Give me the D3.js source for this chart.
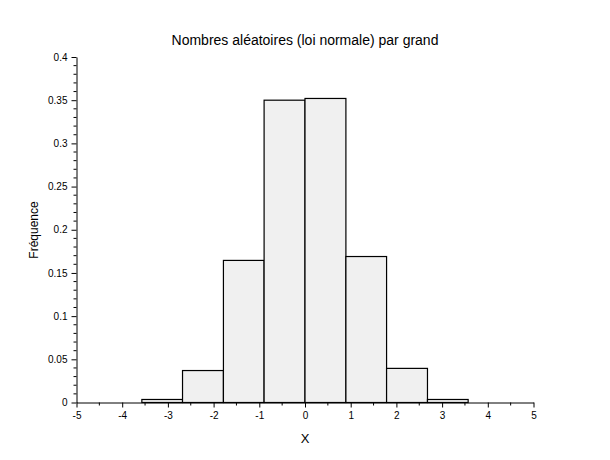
<!DOCTYPE html>
<html><head><meta charset="utf-8">
<script src="https://cdn.jsdelivr.net/npm/d3@7"></script>
<style>body{margin:0;background:#fff}svg{display:block;font-family:"Liberation Sans",Arial,sans-serif}</style>
</head><body>
<svg id="c" width="610" height="460"></svg>
<script>
const binEdges = [-3.57, -2.68, -1.785, -0.895, 0, 0.895, 1.785, 2.68, 3.57];
const frequencies = [0.0035, 0.037, 0.1645, 0.35, 0.352, 0.169, 0.0395, 0.0035];
const xTicks = [-5, -4, -3, -2, -1, 0, 1, 2, 3, 4, 5];
const yTicks = [0, 0.05, 0.1, 0.15, 0.2, 0.25, 0.3, 0.35, 0.4];
const titleText = "Nombres aléatoires (loi normale) par grand";
const xLabel = "X";
const yLabel = "Fréquence";

const svg = d3.select("#c");
const L = 76.5, R = 533.5, T = 57, B = 402.5;
const x = d3.scaleLinear().domain([-5, 5]).range([L, R]);
const y = d3.scaleLinear().domain([0, 0.4]).range([B, T]);

const bins = frequencies.map((f, i) => ({x0: binEdges[i], x1: binEdges[i+1], f}));
svg.append("g").selectAll("rect").data(bins).join("rect")
  .attr("x", d => x(d.x0)).attr("width", d => x(d.x1) - x(d.x0))
  .attr("y", d => y(d.f)).attr("height", d => y(0) - y(d.f))
  .attr("fill", "#f0f0f0").attr("stroke", "#000").attr("stroke-width", 1.2);

const xMinor = d3.range(-4.5, 5, 1);
const yMinor = d3.range(0, 0.401, 0.01).filter(v => Math.abs(v*20 - Math.round(v*20)) > 1e-6);

const gx = svg.append("g").attr("transform", `translate(0,${B})`)
  .call(d3.axisBottom(x).tickValues(xTicks).tickFormat(d => String(d)).tickSize(5).tickSizeOuter(0));
gx.append("g").selectAll("line").data(xMinor).join("line")
  .attr("x1", d => x(d)).attr("x2", d => x(d)).attr("y1", 0).attr("y2", 3).attr("stroke", "#000");

const gy = svg.append("g").attr("transform", `translate(${L},0)`)
  .call(d3.axisLeft(y).tickValues(yTicks).tickFormat(d => d === 0 ? "0" : String(+d.toFixed(2))).tickSize(5).tickSizeOuter(0));
gy.append("g").selectAll("line").data(yMinor).join("line")
  .attr("y1", d => y(d)).attr("y2", d => y(d)).attr("x1", 0).attr("x2", -3).attr("stroke", "#000");

[gx, gy].forEach(g => {
  g.select(".domain").attr("stroke", "#000");
  g.selectAll(".tick line").attr("stroke", "#000");
  g.selectAll(".tick text").attr("fill", "#000").attr("font-size", "10px").attr("font-family", "Liberation Sans, Arial, sans-serif");
});
gx.selectAll(".tick text").attr("dy", "0.71em").attr("y", 9);
gy.selectAll(".tick text").attr("x", -9);

svg.append("text").attr("x", 305).attr("y", 45).attr("text-anchor", "middle")
  .attr("font-size", "14px").attr("fill", "#000").text(titleText);
svg.append("text").attr("x", 305).attr("y", 443).attr("text-anchor", "middle")
  .attr("font-size", "13px").attr("fill", "#000").text(xLabel);
svg.append("text").attr("transform", "translate(38,230) rotate(-90)").attr("text-anchor", "middle")
  .attr("font-size", "12px").attr("fill", "#000").text(yLabel);
</script>
</body></html>
